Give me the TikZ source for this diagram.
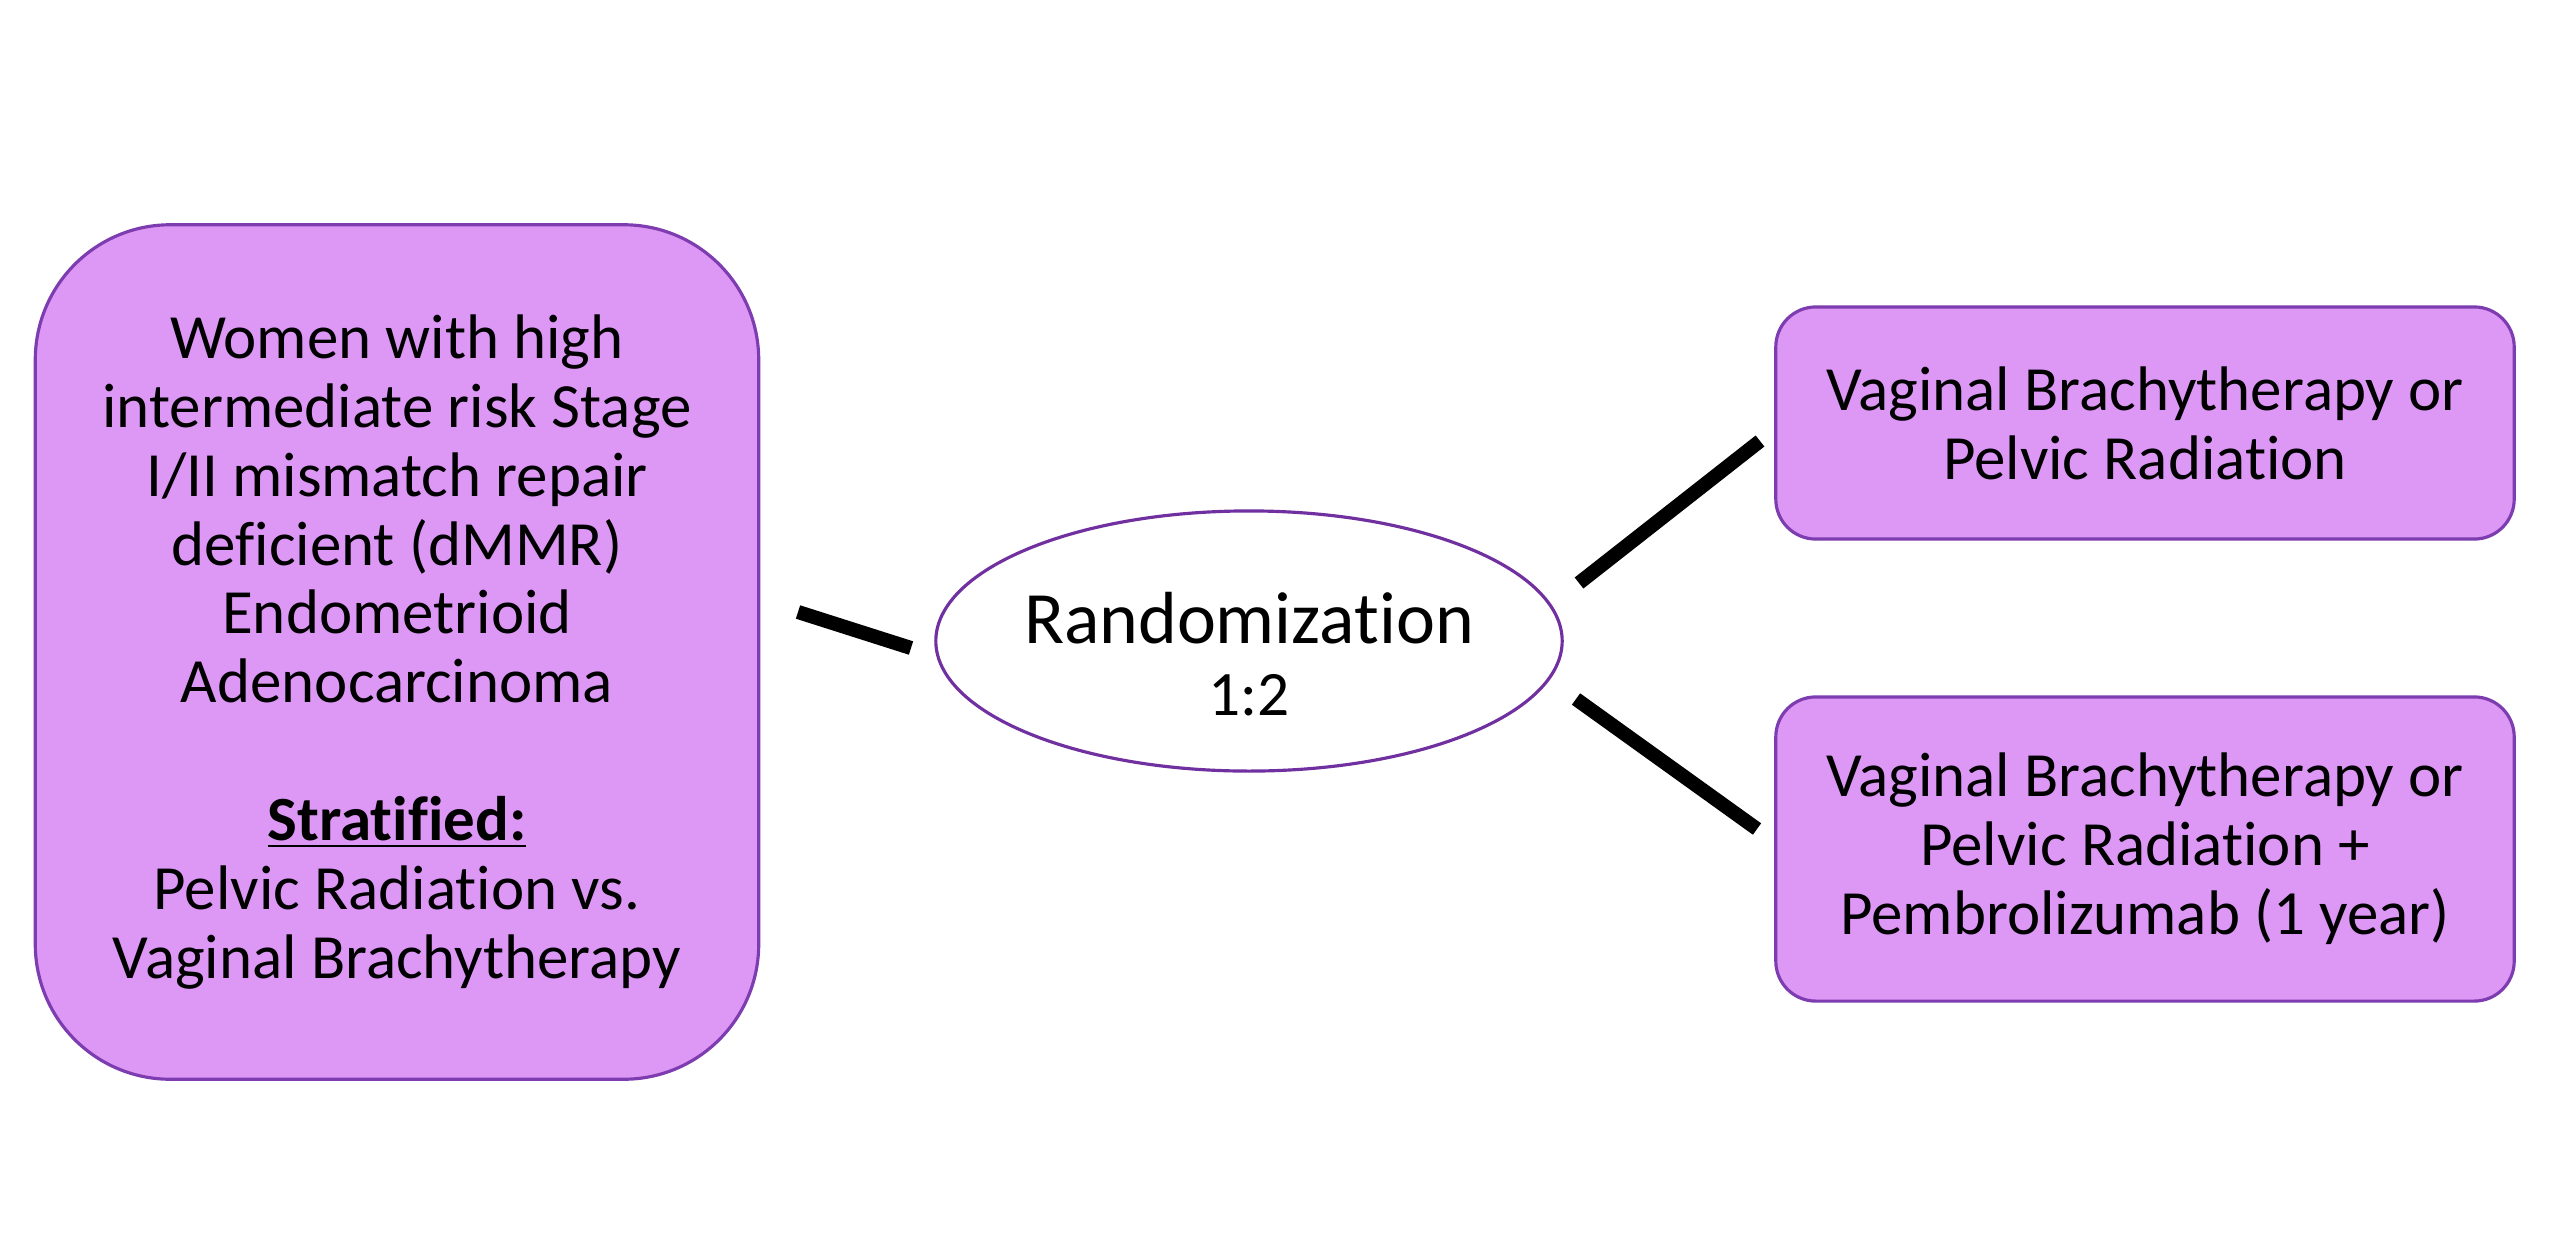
\documentclass[tikz,border=0pt]{standalone}
\usepackage{fontspec}
\setmainfont{Carlito}[Ligatures={NoCommon}]
\usetikzlibrary{shapes.geometric}
\definecolor{boxfill}{RGB}{221,152,246}
\definecolor{boxline}{RGB}{125,60,175}
\definecolor{ellline}{RGB}{112,48,160}
\tikzset{
  box/.style={draw=boxline, line width=0.9pt, fill=boxfill, align=center, inner sep=0pt,
    font=\fontsize{17.9}{19.6}\selectfont},
  randnode/.style={ellipse, draw=ellline, line width=0.9pt, fill=white, inner sep=0pt,
    minimum width=6.26cm, minimum height=2.6cm},
  randtext/.style={align=center, inner sep=0pt, font=\fontsize{21}{20.3}\selectfont},
  link/.style={line width=4pt, black}
}
\begin{document}
\begin{tikzpicture}[x=0.01cm, y=-0.01cm]
\useasboundingbox (0,0) rectangle (2560,1236);
\fill[white] (0,0) rectangle (2560,1236);
\node[box, rounded corners=1.35cm, minimum width=7.23cm, minimum height=8.54cm] (pop) at (397,652)
  {Women with high\\intermediate risk Stage\\I/II mismatch repair\\deficient (dMMR)\\Endometrioid\\Adenocarcinoma\\[19.6pt]
   \underline{\textbf{Stratified:}}\\Pelvic Radiation vs.\\Vaginal Brachytherapy};
\node[randnode] (rand) at (1249,641) {};
\node[randtext] (randlabel) at (1249,654)
  {Randomization\\{\fontsize{18}{19.6}\selectfont 1:2}};
\node[box, rounded corners=0.4cm, minimum width=7.38cm, minimum height=2.32cm] (armA) at (2145,423)
  {Vaginal Brachytherapy or\\Pelvic Radiation};
\node[box, rounded corners=0.4cm, minimum width=7.38cm, minimum height=3.04cm] (armB) at (2145,849)
  {Vaginal Brachytherapy or\\Pelvic Radiation +\\Pembrolizumab (1 year)};
\coordinate (l1a) at (798,612);
\coordinate (l1b) at (911,648);
\coordinate (l2a) at (1579,583);
\coordinate (l2b) at (1760,441);
\coordinate (l3a) at (1576,699);
\coordinate (l3b) at (1757,829);
\draw[link] (l1a) -- (l1b);
\draw[link] (l2a) -- (l2b);
\draw[link] (l3a) -- (l3b);
\end{tikzpicture}
\end{document}
